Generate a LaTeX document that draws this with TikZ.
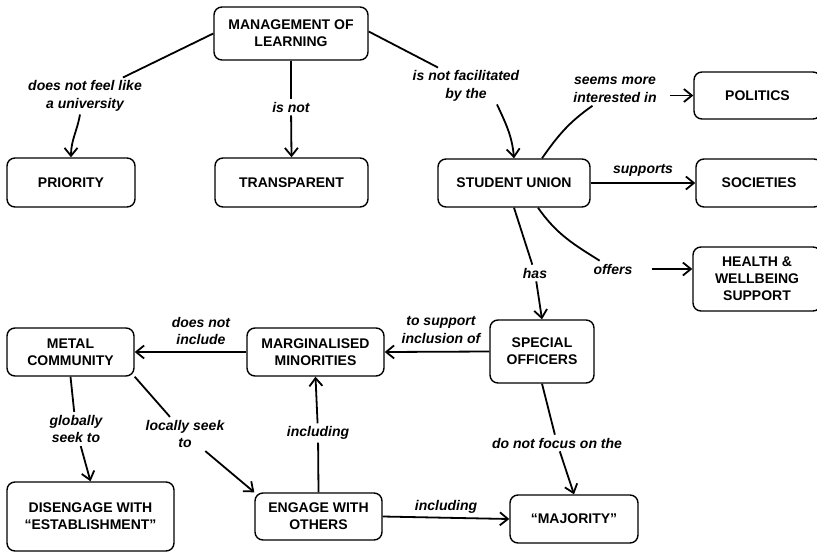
\documentclass[tikz,border=0pt]{standalone}
\usepackage{fontspec}
\setmainfont{Liberation Sans}
\usetikzlibrary{arrows.meta,calc}

\tikzset{
  box/.style={draw, rounded corners=8pt, line width=1.4pt, inner sep=0pt,
    align=center, fill=white, font=\fontsize{14}{17}\selectfont\bfseries},
  lbl/.style={align=center, inner sep=3pt,
    font=\fontsize{14}{17.5}\selectfont\bfseries\itshape},
  conn/.style={line width=1.8pt},
  arr/.style={conn, -{Straight Barb[length=8pt,width=13pt]}}
}

\begin{document}
\begin{tikzpicture}[x=1pt,y=1pt]
\useasboundingbox (0,0) rectangle (817,-552);
\clip (0,0) rectangle (817,-552);

% concepts
\node[box, minimum width=154pt, minimum height=53pt] (ml)   at (291,-33.5)  {MANAGEMENT OF\\LEARNING};
\node[box, minimum width=128pt, minimum height=49pt] (prio) at (71,-182.5)  {PRIORITY};
\node[box, minimum width=153pt, minimum height=49pt] (tr)   at (291.5,-182.5) {TRANSPARENT};
\node[box, minimum width=152pt, minimum height=48pt] (su)   at (514,-183)   {STUDENT UNION};
\node[box, minimum width=127pt, minimum height=47pt] (pol)  at (757.5,-95.5) {POLITICS};
\node[box, minimum width=126pt, minimum height=48pt] (soc)  at (759,-183)   {SOCIETIES};
\node[box, minimum width=128pt, minimum height=64pt] (hw)   at (757,-279)   {HEALTH \&\\WELLBEING\\SUPPORT};
\node[box, minimum width=104pt, minimum height=63pt] (so)   at (542,-351.5) {SPECIAL\\OFFICERS};
\node[box, minimum width=137pt, minimum height=48pt] (mm)   at (315.5,-352) {MARGINALISED\\MINORITIES};
\node[box, minimum width=127pt, minimum height=48pt] (mc)   at (70.5,-352)  {METAL\\COMMUNITY};
\node[box, minimum width=167pt, minimum height=69pt] (dis)  at (90.5,-516.5) {DISENGAGE WITH\\“ESTABLISHMENT”};
\node[box, minimum width=127pt, minimum height=47pt] (eng)  at (318.5,-516.5) {ENGAGE WITH\\OTHERS};
\node[box, minimum width=128pt, minimum height=48pt] (maj)  at (574,-519)   {“MAJORITY”};

% linking phrases
\node[lbl] (l1)  at (85,-96)   {does not feel like\\a university};
\node[lbl] (l2)  at (291,-107) {is not};
\node[lbl] (l3)  at (466,-86)  {is not facilitated\\by the};
\node[lbl] (l4)  at (615,-90)  {seems more\\interested in};
\node[lbl] (l5)  at (643,-170) {supports};
\node[lbl] (l6)  at (613,-269) {offers};
\node[lbl] (l7)  at (535,-273) {has};
\node[lbl] (l8)  at (441,-330) {to support\\inclusion of};
\node[lbl] (l9)  at (557,-443) {do not focus on the};
\node[lbl] (l10) at (201,-331) {does not\\include};
\node[lbl] (l11) at (76,-429)  {globally\\seek to};
\node[lbl] (l12) at (185,-434) {locally seek\\to};
\node[lbl] (l13) at (318,-433) {including};
\node[lbl] (l14) at (446,-507) {including};

% management of learning
\draw[conn] (ml.west) -- (l1);
\draw[arr]  ([xshift=-5pt]l1.south) to[out=-100,in=90] (prio.north);
\draw[conn] (ml.south) -- (l2);
\draw[arr]  (l2) -- (tr.north);
\draw[conn] ([yshift=2pt]ml.east) -- ([xshift=-28pt]l3.north);
\draw[arr]  ([xshift=31pt]l3.south) to[out=-65,in=95] (su.north);

% student union
\draw[conn] ([xshift=28pt]su.north) to[out=55,in=-145] (l4);
\draw[arr]  ($(l4.east |- pol.west)+(10,0)$) -- (pol.west);
\draw[arr]  (su.east) -- (soc.west);
\draw[conn] ([xshift=24pt]su.south) to[out=-55,in=148] (l6);
\draw[arr]  ([xshift=16pt]l6.east) -- (l6.east -| hw.west);
\draw[conn] (su.south) -- (l7);
\draw[arr]  (l7) -- (so.north);

% special officers
\draw[arr]  (so.west) -- (mm.east);
\draw[conn] (so.south) -- (l9);
\draw[arr]  (l9) -- (maj.north);

% marginalised minorities and metal community
\draw[arr]  (mm.west) -- (mc.east);
\draw[conn] (mc.south) -- (l11);
\draw[arr]  (l11) -- (dis.north);
\draw[conn] (mc.south east) -- (l12);
\draw[arr]  (l12) -- (eng.north west);

% engage with others
\draw[conn] (eng.north) -- (l13);
\draw[arr]  (l13) -- (mm.south);
\draw[arr]  (eng.east) -- (maj.west);
\end{tikzpicture}
\end{document}
